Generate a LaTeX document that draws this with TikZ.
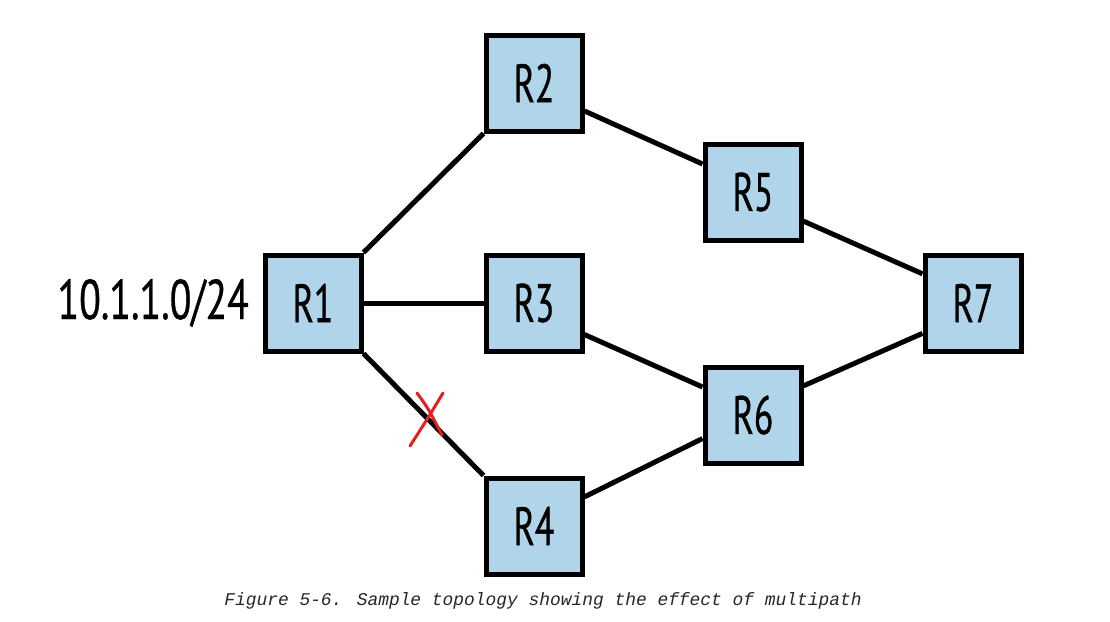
\documentclass[tikz,border=0pt]{standalone}
\usepackage{fontspec}
\setmainfont{PT Sans}
\newfontfamily\nodefont[FakeBold=0.8]{PT Sans}
\newfontfamily\capfont{Liberation Mono}
\definecolor{boxblue}{HTML}{B0D4EA}
\definecolor{xred}{HTML}{E32020}
\begin{document}
\begin{tikzpicture}[x=1pt,y=-1pt,
  router/.style={draw=black, line width=5pt, fill=boxblue, minimum size=96pt, inner sep=0pt, font=\nodefont\fontsize{54}{54}\selectfont},
  link/.style={line width=5pt},
  netlabel/.style={font=\nodefont\fontsize{56}{56}\selectfont, inner sep=0pt, anchor=east},
  caption/.style={font=\capfont\itshape\fontsize{17.9}{20}\selectfont, text=black!85}]
\useasboundingbox (0,0) rectangle (1110,621);
\node[router] (R1) at (313,303) {\scalebox{0.66}[1]{R1}};
\node[router] (R2) at (534,83) {\scalebox{0.66}[1]{R2}};
\node[router] (R3) at (534,303) {\scalebox{0.66}[1]{R3}};
\node[router] (R4) at (534,526) {\scalebox{0.66}[1]{R4}};
\node[router] (R5) at (753,192) {\scalebox{0.66}[1]{R5}};
\node[router] (R6) at (753,415) {\scalebox{0.66}[1]{R6}};
\node[router] (R7) at (973,303) {\scalebox{0.66}[1]{R7}};
\node[netlabel] (net) at (249,303) {\scalebox{0.71}[1]{10.1.1.0/24}};
\draw[link] (R1.north east) -- (R2.south west);
\draw[link] (R1.east) -- (R3.west);
\draw[link] (R1.south east) -- (R4.north west);
\draw[link] (R2.-29) -- (R5.151);
\draw[link] (R5.-30) -- (R7.150);
\draw[link] (R3.-32) -- (R6.151);
\draw[link] (R4.30) -- (R6.-155);
\draw[link] (R6.30) -- (R7.-149);
\draw[xred, line width=3pt, line cap=round] (417,393) .. controls (428,408) .. (442,435);
\draw[xred, line width=3pt, line cap=round] (443,393) .. controls (428,418) .. (410,446);
\node[caption] (cap) at (543,601) {Figure 5-6. Sample topology showing the effect of multipath};
\end{tikzpicture}
\end{document}
